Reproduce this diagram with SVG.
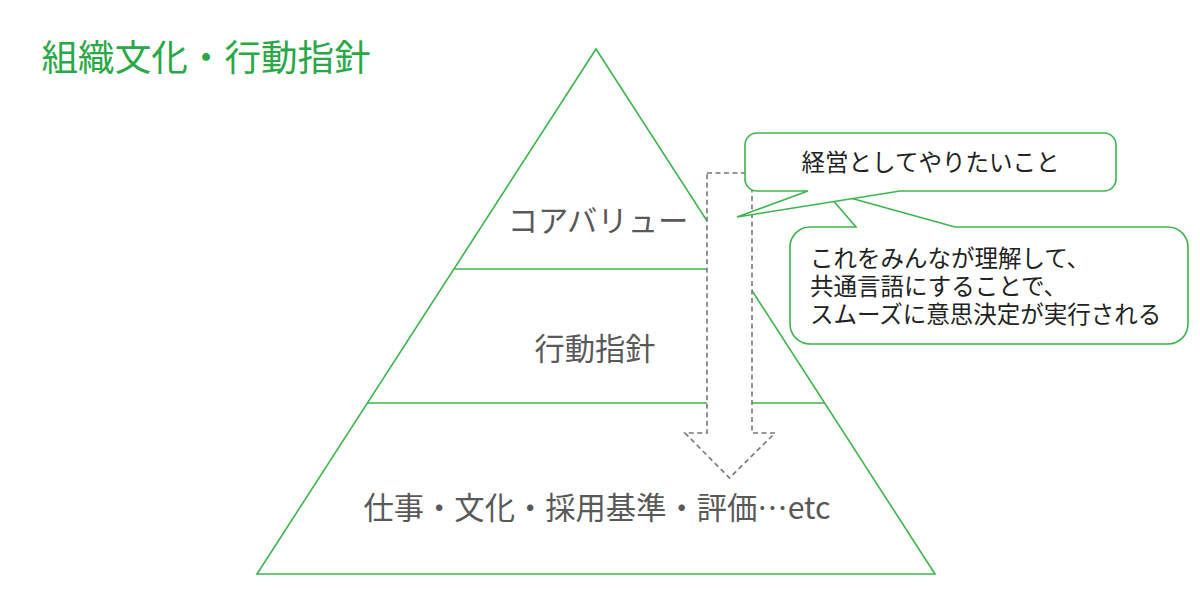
<svg xmlns="http://www.w3.org/2000/svg" width="1200" height="589" viewBox="0 0 1200 589">
  <style>
    .jp { font-family: "Noto Sans CJK JP", "Noto Sans", sans-serif; }
    .title { fill: #2aa847; font-size: 36.6px; }
    .layer { fill: #595959; font-size: 30.3px; }
    .note { fill: #222222; font-size: 23.5px; }
    .edge { fill: none; stroke: #3cb54c; stroke-width: 1.6; }
    .bubble { fill: #ffffff; stroke: #3cb54c; stroke-width: 1.6; stroke-linejoin: miter; }
    .flow { fill: #ffffff; stroke: #777777; stroke-width: 1.6; stroke-dasharray: 5 3.5; }
  </style>
  <rect width="1200" height="589" fill="#ffffff"/>

  <g id="title">
    <text class="jp title" x="41.5" y="70.5">組織文化・行動指針</text>
  </g>

  <g id="pyramid">
    <polygon class="edge" points="596,49 257,574 935,574"/>
    <line class="edge" x1="454" y1="269" x2="738" y2="269"/>
    <line class="edge" x1="367.4" y1="403" x2="824.6" y2="403"/>
  </g>

  <g id="layer-core-value">
    <text class="jp layer" x="598" y="232" text-anchor="middle">コアバリュー</text>
  </g>
  <g id="layer-guideline">
    <text class="jp layer" x="595" y="360" text-anchor="middle">行動指針</text>
  </g>
  <g id="layer-practice">
    <text class="jp layer" x="597" y="519" text-anchor="middle">仕事・文化・採用基準・評価…etc</text>
  </g>

  <g id="connectors">
    <polygon class="flow" points="707,173 752,173 752,433 775,433 729.5,478 685,433 707,433"/>
  </g>

  <g id="callout-explain">
    <path class="bubble" d="M810,227 H856 L825,191 L955,227 H1168 A20,20 0 0 1 1188,247 V324 A20,20 0 0 1 1168,344 H810 A20,20 0 0 1 790,324 V247 A20,20 0 0 1 810,227 Z"/>
    <text class="jp note" x="810" y="267">これをみんなが理解して、</text>
    <text class="jp note" x="810" y="294.5">共通言語にすることで、</text>
    <text class="jp note" x="810" y="322.5">スムーズに意思決定が実行される</text>
  </g>

  <g id="callout-management">
    <path class="bubble" d="M757,133 H1104 A12,12 0 0 1 1116,145 V179 A12,12 0 0 1 1104,191 H900 L737,217 L808,191 H757 A12,12 0 0 1 745,179 V145 A12,12 0 0 1 757,133 Z"/>
    <text class="jp note" x="930.5" y="171" text-anchor="middle">経営としてやりたいこと</text>
  </g>
</svg>
